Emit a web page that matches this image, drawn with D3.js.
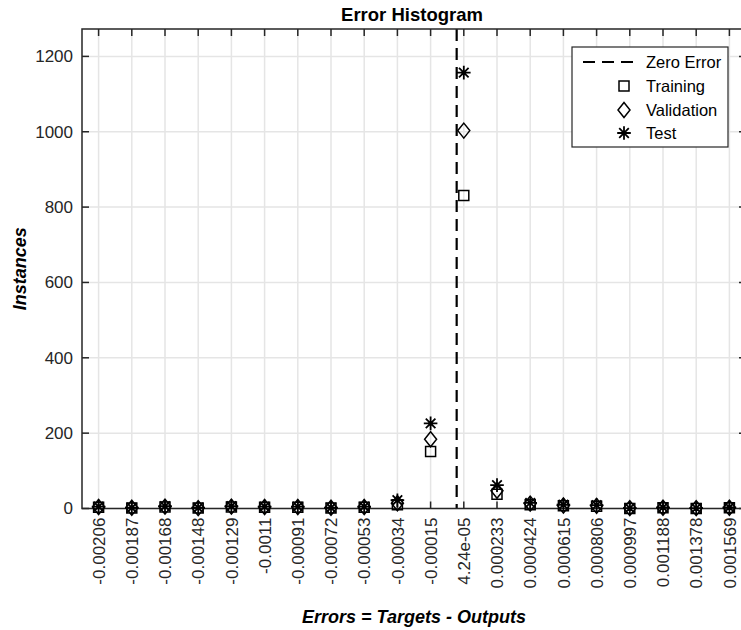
<!DOCTYPE html>
<html>
<head>
<meta charset="utf-8">
<script src="https://cdn.jsdelivr.net/npm/d3@7"></script>
<style>
  html, body { margin: 0; padding: 0; background: #fff; }
  svg { display: block; }
  text { font-family: "Liberation Sans", Arial, sans-serif; }
</style>
</head>
<body>
<svg id="chart" width="741" height="630"></svg>
<script>
// ---------- data ----------
const categories = ["-0.00206","-0.00187","-0.00168","-0.00148","-0.00129","-0.0011","-0.00091","-0.00072","-0.00053","-0.00034","-0.00015","4.24e-05","0.000233","0.000424","0.000615","0.000806","0.000997","0.001188","0.001378","0.001569"];
const training   = [3,1,4,1,4,3,3,1,3,10,151,831,38,10,7,6,0,2,0,2];
const validation = [4,2,5,1,5,4,4,2,4,14,184,1003,47,13,8,7,1,2,1,2];
const test       = [5,2,6,2,6,5,5,2,5,22,226,1157,62,15,10,9,1,3,1,3];
const yTicks = [0,200,400,600,800,1000,1200];
const zeroError = 0;
const seriesNames = ["Training","Validation","Test"];

// ---------- layout ----------
const svg = d3.select("#chart");
const L = 82, R = 746, T = 29, B = 508.5;
const axisColor = "#262626";
const gridColor = "#e5e5e5";

const x = d3.scalePoint().domain(categories).range([L, R]).padding(0.5);
const xVal = d3.scaleLinear()
  .domain([parseFloat(categories[0]), parseFloat(categories[categories.length-1])])
  .range([x(categories[0]), x(categories[categories.length-1])]);
const yMax = d3.max([...training, ...validation, ...test]) * 1.1;
const y = d3.scaleLinear().domain([0, yMax]).range([B, T]);

// grid
const g = svg.append("g");
g.selectAll(".vg").data(categories).enter().append("line")
  .attr("x1", d => x(d)).attr("x2", d => x(d)).attr("y1", T).attr("y2", B)
  .attr("stroke", gridColor).attr("stroke-width", 1.5);
g.selectAll(".hg").data(yTicks).enter().append("line")
  .attr("x1", L).attr("x2", R).attr("y1", d => y(d)).attr("y2", d => y(d))
  .attr("stroke", gridColor).attr("stroke-width", 1.5);

// zero error line
svg.append("line")
  .attr("x1", xVal(zeroError)).attr("x2", xVal(zeroError))
  .attr("y1", T).attr("y2", B)
  .attr("stroke", "#000").attr("stroke-width", 2.2)
  .attr("stroke-dasharray", "12,7");

// axes box and ticks
const ax = svg.append("g");
ax.append("rect").attr("x", L).attr("y", T).attr("width", R - L).attr("height", B - T)
  .attr("fill", "none").attr("stroke", axisColor).attr("stroke-width", 1.5);
const tl = 7;
categories.forEach(c => {
  ax.append("line").attr("x1", x(c)).attr("x2", x(c)).attr("y1", B).attr("y2", B - tl)
    .attr("stroke", axisColor).attr("stroke-width", 1.5);
  ax.append("line").attr("x1", x(c)).attr("x2", x(c)).attr("y1", T).attr("y2", T + tl)
    .attr("stroke", axisColor).attr("stroke-width", 1.5);
});
yTicks.forEach(v => {
  ax.append("line").attr("x1", L).attr("x2", L + tl).attr("y1", y(v)).attr("y2", y(v))
    .attr("stroke", axisColor).attr("stroke-width", 1.5);
  ax.append("line").attr("x1", R).attr("x2", R - tl).attr("y1", y(v)).attr("y2", y(v))
    .attr("stroke", axisColor).attr("stroke-width", 1.5);
});

// tick labels
svg.selectAll(".yl").data(yTicks).enter().append("text")
  .attr("x", L - 9).attr("y", d => y(d)).attr("dy", "0.35em")
  .attr("text-anchor", "end").attr("font-size", 17).attr("fill", axisColor)
  .text(d => d);
svg.selectAll(".xl").data(categories).enter().append("text")
  .attr("transform", d => `translate(${x(d)},${B + 9}) rotate(-90)`)
  .attr("dy", "0.36em").attr("text-anchor", "end")
  .attr("font-size", 17).attr("fill", axisColor)
  .text(d => d);

// markers
const sq = 5, dw = 6, dh = 7.5, sr = 6.8, sd = 4.8;
const starPath = `M${-sr},0L${sr},0M0,${-sr}L0,${sr}M${-sd},${-sd}L${sd},${sd}M${-sd},${sd}L${sd},${-sd}`;
const diamondPath = `M0,${-dh}L${dw},0L0,${dh}L${-dw},0Z`;
const squarePath = `M${-sq},${-sq}L${sq},${-sq}L${sq},${sq}L${-sq},${sq}Z`;
const shapes = [squarePath, diamondPath, starPath];
const seriesData = [training, validation, test];
seriesData.forEach((vals, si) => {
  svg.append("g").selectAll("path").data(vals).enter().append("path")
    .attr("transform", (d, i) => `translate(${x(categories[i])},${y(d)})`)
    .attr("d", shapes[si])
    .attr("fill", "none").attr("stroke", "#000")
    .attr("stroke-width", si === 2 ? 1.8 : 1.5);
});

// legend
const lg = svg.append("g");
lg.append("rect").attr("x", 572).attr("y", 47).attr("width", 156).attr("height", 100)
  .attr("fill", "#fff").attr("stroke", axisColor).attr("stroke-width", 1.2);
const legendNames = ["Zero Error", ...seriesNames];
const ly = [62, 86, 110, 133];
lg.append("line").attr("x1", 583).attr("x2", 639).attr("y1", ly[0]).attr("y2", ly[0])
  .attr("stroke", "#000").attr("stroke-width", 2.2).attr("stroke-dasharray", "12,7");
shapes.forEach((s, i) => {
  lg.append("path").attr("transform", `translate(624,${ly[i+1]})`).attr("d", s)
    .attr("fill", "none").attr("stroke", "#000").attr("stroke-width", i === 2 ? 1.8 : 1.5);
});
lg.selectAll("text").data(legendNames).enter().append("text")
  .attr("x", 646).attr("y", (d, i) => ly[i]).attr("dy", "0.36em")
  .attr("font-size", 16.5).attr("fill", "#000").text(d => d);

// titles
svg.append("text").attr("x", (L + R) / 2 - 2).attr("y", 21)
  .attr("text-anchor", "middle").attr("font-size", 18.5).attr("font-weight", "bold")
  .attr("fill", "#000").text("Error Histogram");
svg.append("text").attr("x", (L + R) / 2).attr("y", 623)
  .attr("text-anchor", "middle").attr("font-size", 18).attr("font-weight", "bold")
  .attr("font-style", "italic").attr("fill", "#000").text("Errors = Targets - Outputs");
svg.append("text").attr("transform", `translate(26,${(T + B) / 2}) rotate(-90)`)
  .attr("text-anchor", "middle").attr("font-size", 18).attr("font-weight", "bold")
  .attr("font-style", "italic").attr("fill", "#000").text("Instances");
</script>
</body>
</html>
